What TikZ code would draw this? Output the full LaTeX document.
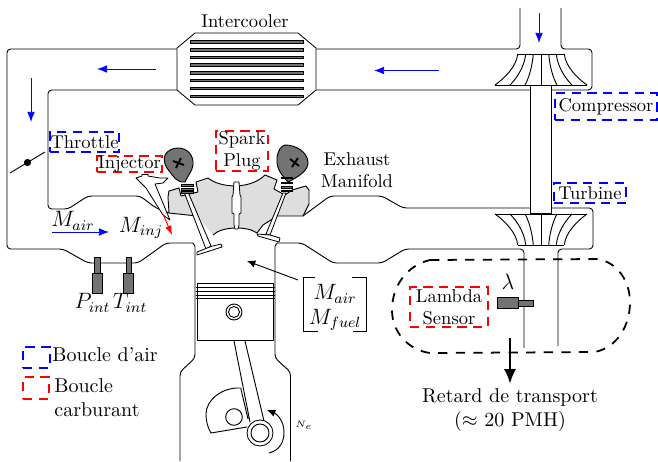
\documentclass[tikz,border=0pt]{standalone}
\usetikzlibrary{arrows.meta}
\definecolor{partgray}{gray}{0.45}
\definecolor{headgray}{gray}{0.87}
\tikzset{
  wall/.style={draw=black,line width=0.5pt,line join=round},
  part/.style={draw=black,line width=0.45pt,fill=white,line join=round},
  dark/.style={draw=black,line width=0.5pt,fill=partgray},
  flow/.style={draw=blue,line width=0.5pt,-{Latex[length=5.5pt,width=4.2pt]}},
  lblue/.style={draw=blue,line width=1.1pt,dash pattern=on 5pt off 3.5pt,inner sep=0pt,align=center},
  lred/.style={draw=red,line width=1.1pt,dash pattern=on 5pt off 3.5pt,inner sep=0pt,align=center},
  txt/.style={inner sep=0pt,align=center},
  bigtxt/.style={inner sep=0pt,align=center,font=\fontsize{10.8}{13}\selectfont},
  mathtxt/.style={inner sep=0pt,font=\large},
  blade/.style={draw=black,line width=0.5pt}
}
\begin{document}
\begin{tikzpicture}[x=0.54pt,y=-0.54pt]
\useasboundingbox (0,0) rectangle (658,461);

% gray cylinder head
\fill[headgray] (169,191) -- (179,188) -- (181,196) -- (198,192) -- (196,182) -- (208,178)
  .. controls (220,188) and (250,190) .. (265,175) -- (277,180) -- (274,189) -- (285,195) -- (292,190) -- (306,186) -- (309,190) -- (309,204) -- (303,216)
  -- (277,216) -- (263,225) -- (257,233) .. controls (248,226) and (222,226) .. (213,235)
  -- (197,216) -- (169,213) -- cycle;
\draw[wall] (169,213) -- (168,197) -- (169,191) -- (179,188) -- (181,196) -- (198,192) -- (196,182) -- (208,178)
  .. controls (220,188) and (250,190) .. (265,175) -- (277,180) -- (274,189) -- (285,195) -- (292,190) -- (306,186) -- (309,190) -- (309,204) -- (303,216) -- (277,216) -- (263,225) -- (257,233);
\draw[wall] (213,235) .. controls (222,226) and (248,226) .. (257,233);
\draw[wall] (169,213) -- (197,216);

% air path
\draw[wall,rounded corners=2pt] (177,49) -- (7,49) -- (7,249) -- (63,249) -- (88,263) -- (138,263) -- (166,243) -- (189,243)
  .. controls (193,243) and (195,246) .. (195,250) -- (195,358) -- (180,372) -- (180,461);
\draw[wall,rounded corners=2pt] (177,90) -- (48,90) -- (48,209) -- (68,209) -- (88,196) -- (140,196) -- (156,208) -- (169,213);
\draw[wall,rounded corners=2pt] (316,49) -- (520,49) -- (520,8);
\draw[wall,rounded corners=2pt] (561,8) -- (561,49) -- (592,49) -- (592,90) -- (316,90);

% exhaust path
\draw[wall,rounded corners=2pt] (303,216) -- (330,196) -- (382,196) -- (403,208) -- (593,208) -- (593,249) -- (558,249) -- (558,346);
\draw[wall,rounded corners=2pt] (524,348) -- (524,249) -- (405,249) -- (382,263) -- (333,263) -- (302,243) -- (281,243)
  .. controls (277,243) and (275,246) .. (275,250) -- (275,358) -- (290.5,372) -- (290.5,461);

% intercooler
\node (ic) [txt] at (245,21) {Intercooler};
\draw[part] (195,33) -- (298,33) -- (316,48) -- (316,90) -- (298,105) -- (195,105) -- (177,90) -- (177,48) -- cycle;
\foreach \y in {42,50,57.5,65,73,80.5,88.5,96.5}
  \draw[dark,line width=0.4pt] (190,\y-1.2) rectangle (303,\y+1.2);

% compressor and turbine
\draw[part] (530.7,85) rectangle (551.2,213);
\draw[blade] (517.7,54) -- (564.3,54) (495,85) -- (587,85) (541,54) -- (541,85);
\draw[blade] (495,214) -- (587,214) (517.7,245) -- (564.3,245) (541,214) -- (541,245);
\foreach \a/\b/\c in {517.7/495/505,525.7/510/517,533.3/525/529}{
  \draw[blade] (\a,54) .. controls ({\a-1},66) and (\c,78) .. (\b,85);
  \draw[blade] ({1082-\a},54) .. controls ({1083-\a},66) and ({1082-\c},78) .. ({1082-\b},85);
  \draw[blade] (\a,245) .. controls ({\a-1},233) and (\c,221) .. (\b,214);
  \draw[blade] ({1082-\a},245) .. controls ({1083-\a},233) and ({1082-\c},221) .. ({1082-\b},214);
}

% flow arrows
\coordinate (f1a) at (156,69); \coordinate (f1b) at (97,69);
\coordinate (f2a) at (439,70.5); \coordinate (f2b) at (374,70.5);
\coordinate (f3a) at (31,78); \coordinate (f3b) at (31,122);
\coordinate (f4a) at (539,13); \coordinate (f4b) at (539,43);
\coordinate (f5a) at (52,232); \coordinate (f5b) at (109,232);
\draw[flow] (f1a) -- (f1b);
\draw[flow] (f2a) -- (f2b);
\draw[flow] (f3a) -- (f3b);
\draw[flow] (f4a) -- (f4b);
\draw[flow] (f5a) -- (f5b);

% throttle
\coordinate (th1) at (10,173); \coordinate (th2) at (45,152);
\draw[line width=0.5pt] (th1) -- (th2);
\fill (27.5,162.5) circle[radius=3.6];

% cams
\draw[dark] (178,148) .. controls (187,148) and (194,155) .. (193,165) .. controls (192,172) and (188,175) .. (185,182)
  .. controls (177,183) and (173,176) .. (170,172) .. controls (165,167) and (163,160) .. (165,155) .. controls (168,150) and (173,148) .. (178,148) -- cycle;
\draw[line width=1pt] (173,161) -- (184,165) (176,168) -- (181,158);
\draw[dark] (285,145) .. controls (295,145) and (307,151) .. (308,162) .. controls (309,171) and (296,178) .. (288,182)
  .. controls (283,176) and (276,170) .. (277,158) .. controls (278,150) and (281,146) .. (285,145) -- cycle;
\draw[line width=1pt] (290,159) -- (299,166) (298,158) -- (292,167);

% valves
\draw[part] (184,192) -- (206,249) -- (211,246) -- (188,192) -- cycle;
\draw[part] (211,246.5) -- (221,244) -- (222,247) -- (197,255) -- (197,252) -- cycle;
\draw[part] (283,193) -- (266,234) -- (270,235) -- (286,193) -- cycle;
\draw[part] (257,234) -- (270,235) -- (280,238) -- (279,242) -- (258,236) -- cycle;
\foreach \y in {185.5,189,192}
  \draw[dark] (181,\y-1) rectangle (193,\y+1);
\foreach \y in {178,183,187.5,191}
  \draw[dark] (281,\y-0.8) rectangle (292,\y+0.8);

% spark plug
\draw[part] (234,182) -- (239,182) -- (240,195) -- (241,197) -- (241,213) -- (239,214) -- (239,225) -- (238,229)
  -- (235,229) -- (234,225) -- (234,214) -- (232,213) -- (232,197) -- (233,195) -- cycle;

% injector
\draw[part] (136,178) -- (142,176) -- (142,174.5) -- (148,174.5) -- (148,176) -- (160,178) -- (168,178) -- (163,183) -- (155,184)
  -- (170,220) -- (163,215) -- (146,188) -- cycle;
\coordinate (inja) at (163,214); \coordinate (injb) at (172,235);
\draw[red,line width=0.5pt,-{Latex[length=5pt,width=3.5pt]}] (inja) -- (injb);

% sensors
\draw[dark] (94.5,257) rectangle (100,273);
\draw[dark] (92,273) rectangle (102,293);
\draw[dark] (126,257) rectangle (131,273);
\draw[dark] (123,273) rectangle (133,293);
\draw[dark] (518,300) rectangle (533,306);
\draw[dark] (497,297) rectangle (518,308);

% piston
\draw[part] (197.3,283.3) rectangle (273.3,340.3);
\foreach \y in {287,291,295,298}
  \draw[line width=0.45pt] (195.5,\y) -- (275,\y);
\draw[line width=0.5pt] (234,312) circle[radius=8];
\draw[line width=0.5pt] (234,312) circle[radius=5.5];

% crank and rod
\draw[line width=0.5pt,line join=round] (240.7,388) .. controls (222,387) and (206,400) .. (206,414) .. controls (206,422) and (208,428) .. (211,433) -- (247,427);
\draw[line width=0.5pt] (234,341) -- (250,422) (245,341) -- (264,421) (240.7,388) -- (248,419);
\draw[part] (260,433) circle[radius=13];
\draw[line width=0.5pt] (260,433) circle[radius=9];
\draw[line width=0.5pt] (234,417) circle[radius=8.3];
\coordinate (rota) at (269,453); \coordinate (rotb) at (267,410);
\draw[line width=0.5pt,-{Latex[length=4.5pt,width=4pt]}] (rota) .. controls (280,450) and (284,442) .. (284,432) .. controls (284,421) and (277,414) .. (rotb);

% mixture arrow
\coordinate (mixa) at (298,280); \coordinate (mixb) at (247,261);
\draw[line width=0.5pt,-{Latex[length=4.5pt,width=4pt]}] (mixa) -- (mixb);
\draw[line width=0.4pt] (315,277) -- (303,277) -- (303,331) -- (318,331);
\draw[line width=0.4pt] (352,277) -- (366,277) -- (366,331) -- (353,331);

% delay loop
\draw[black,line width=0.95pt,dash pattern=on 5pt off 4.5pt] (430,260) -- (597,259)
  .. controls (618,262) and (630,282) .. (630,302) .. controls (630,325) and (618,347) .. (595,352)
  -- (430,353) .. controls (408,350) and (392,332) .. (392,310) .. controls (392,285) and (408,265) .. (430,260) -- cycle;
\coordinate (dla) at (510,338); \coordinate (dlb) at (510,384);
\draw[line width=1.4pt,-{Latex[length=8pt,width=6.5pt]}] (dla) -- (dlb);

% labels
\node (throttle) [lblue,minimum width=37.3pt,minimum height=10.8pt] at (84.5,142) {Throttle};
\node (injector) [lred,minimum width=35pt,minimum height=8.6pt] at (129.5,164) {Injector};
\node (spark) [lred,minimum width=28pt,minimum height=21.6pt] at (242,151) {Spark\\Plug};
\node (comp) [lblue,minimum width=55pt,minimum height=14.5pt] at (606,106.5) {Compressor};
\node (turb) [lblue,minimum width=39pt,minimum height=10.8pt] at (590,193) {Turbine};
\node (lambda) [lred,minimum width=42pt,minimum height=21.6pt] at (449,307) {Lambda\\Sensor};
\node (legb) [lblue,minimum width=14.5pt,minimum height=11.3pt] at (36.5,357.5) {};
\node (legr) [lred,minimum width=14pt,minimum height=11.8pt] at (36,388) {};
\node (legbt) [bigtxt,anchor=west] at (52,355) {Boucle d'air};
\node (legrt) [bigtxt,anchor=north west,align=left] at (54,378) {Boucle\\carburant};
\node (exh) [txt] at (357,170) {Exhaust\\Manifold};
\node (mair) [mathtxt] at (73,221) {$M_{air}$};
\node (minj) [mathtxt] at (141,228) {$M_{inj}$};
\node (pint) [mathtxt] at (92.5,303) {$P_{int}$};
\node (tint) [mathtxt] at (130,303) {$T_{int}$};
\node (mmix1) [mathtxt] at (335,294) {$M_{air}$};
\node (mmix2) [mathtxt] at (335,320) {$M_{fuel}$};
\node (ne) [txt] at (304,425) {\tiny $N_e$};
\node (lam) [mathtxt] at (508,282) {$\lambda$};
\node (delay) [bigtxt] at (510,410) {Retard de transport\\($\approx$ 20 PMH)};
\end{tikzpicture}
\end{document}
